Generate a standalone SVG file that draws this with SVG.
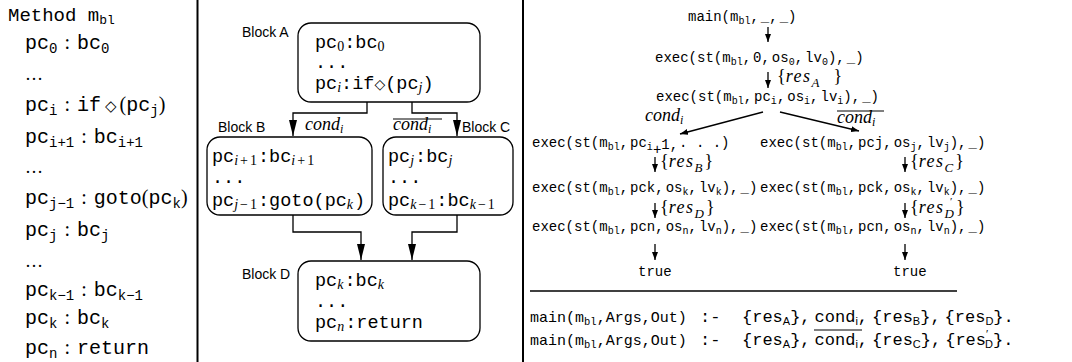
<svg xmlns="http://www.w3.org/2000/svg" width="1072" height="362" viewBox="0 0 1072 362">
<style>
.tt{font-family:"Liberation Mono","DejaVu Sans Mono",monospace;fill:#000}
.rm{font-family:"Liberation Serif","DejaVu Serif",serif;font-style:normal}
.it{font-family:"Liberation Serif","DejaVu Serif",serif;font-style:italic}
.sf{font-family:"Liberation Sans","DejaVu Sans",sans-serif}
.sym{font-family:"DejaVu Sans",sans-serif}
.box{fill:#fff;stroke:#000;stroke-width:1.3}
.conn{fill:none;stroke:#000;stroke-width:1.3}
.div{stroke:#000;stroke-width:2}
.lab{font-family:"Liberation Sans","DejaVu Sans",sans-serif;font-size:14px;fill:#000}
.res{letter-spacing:1.5px}
</style>
<defs>
<marker id="ah" viewBox="0 0 16 8" refX="16" refY="4" markerWidth="16" markerHeight="8" markerUnits="userSpaceOnUse" orient="auto"><path d="M0,0 L16,4 L0,8 z" fill="#000"/></marker>
<marker id="as" viewBox="0 0 8 6" refX="8" refY="3" markerWidth="8" markerHeight="6" markerUnits="userSpaceOnUse" orient="auto"><path d="M0,0 L8,3 L0,6 z" fill="#000"/></marker>
</defs>
<rect width="1072" height="362" fill="#fff"/>
<line class="div" x1="197.5" y1="0" x2="197.5" y2="362"/>
<line class="div" x1="523" y1="0" x2="523" y2="362"/>

<!-- Left column: bytecode listing -->
<g id="listing" class="tt" font-size="20">
<text x="8" y="21" font-size="19">Method m<tspan font-size="13" dy="3">bl</tspan></text>
<text x="25" y="49">pc<tspan font-size="14" dy="4">0</tspan><tspan class="rm" dy="-4" dx="7">:</tspan><tspan dx="7">bc</tspan><tspan font-size="14" dy="4">0</tspan></text>
<text x="25" y="80" class="rm" font-size="18">…</text>
<text x="25" y="111">pc<tspan font-size="14" dy="4">i</tspan><tspan class="rm" dy="-4" dx="7">:</tspan><tspan dx="7">if</tspan><tspan class="sym" font-size="15" dx="4">◇</tspan><tspan class="rm" dx="3">(</tspan>pc<tspan font-size="14" dy="4">j</tspan><tspan class="rm" dy="-4">)</tspan></text>
<text x="25" y="143">pc<tspan font-size="14" dy="4">i+1</tspan><tspan class="rm" dy="-4" dx="7">:</tspan><tspan dx="7">bc</tspan><tspan font-size="14" dy="4">i+1</tspan></text>
<text x="25" y="173" class="rm" font-size="18">…</text>
<text x="25" y="204">pc<tspan font-size="14" dy="4">j−1</tspan><tspan class="rm" dy="-4" dx="7">:</tspan><tspan dx="7">goto</tspan><tspan class="rm">(</tspan>pc<tspan font-size="14" dy="4">k</tspan><tspan class="rm" dy="-4">)</tspan></text>
<text x="25" y="236">pc<tspan font-size="14" dy="4">j</tspan><tspan class="rm" dy="-4" dx="7">:</tspan><tspan dx="7">bc</tspan><tspan font-size="14" dy="4">j</tspan></text>
<text x="25" y="267" class="rm" font-size="18">…</text>
<text x="25" y="296">pc<tspan font-size="14" dy="4">k−1</tspan><tspan class="rm" dy="-4" dx="7">:</tspan><tspan dx="7">bc</tspan><tspan font-size="14" dy="4">k−1</tspan></text>
<text x="25" y="324">pc<tspan font-size="14" dy="4">k</tspan><tspan class="rm" dy="-4" dx="7">:</tspan><tspan dx="7">bc</tspan><tspan font-size="14" dy="4">k</tspan></text>
<text x="25" y="354">pc<tspan font-size="14" dy="4">n</tspan><tspan class="rm" dy="-4" dx="7">:</tspan><tspan dx="7">return</tspan></text>
</g>

<!-- Middle: control flow graph -->
<g id="connectors">
<path class="conn" d="M367,102 V113 H293 V136" marker-end="url(#ah)"/>
<path class="conn" d="M412,102 V113 H457 V136" marker-end="url(#ah)"/>
<path class="conn" d="M293,215 V232 H361 V260" marker-end="url(#ah)"/>
<path class="conn" d="M457,215 V232 H412 V260" marker-end="url(#ah)"/>
<text class="it" x="305" y="130" font-size="18">cond<tspan font-size="12" dy="3">i</tspan></text>
<text class="it" x="393" y="130" font-size="18">cond<tspan font-size="12" dy="3">i</tspan></text>
<line x1="393" y1="119" x2="442" y2="119" stroke="#000" stroke-width="1"/>
</g>

<g id="blockA">
<rect class="box" x="298" y="23" width="182" height="79" rx="13"/>
<text class="lab" x="242" y="37">Block A</text>
<g class="tt" font-size="18.5">
<text x="315" y="48">pc<tspan class="rm" font-size="14" dy="3">0</tspan><tspan dy="-3">:bc</tspan><tspan class="rm" font-size="14" dy="3">0</tspan></text>
<text x="315" y="68">...</text>
<text x="315" y="89">pc<tspan class="it" font-size="14" dy="3">i</tspan><tspan dy="-3">:if</tspan><tspan class="sym" font-size="14">◇</tspan>(pc<tspan class="it" font-size="14" dy="3">j</tspan><tspan dy="-3">)</tspan></text>
</g>
</g>

<g id="blockB">
<rect class="box" x="207" y="137" width="165" height="78" rx="13"/>
<text class="lab" x="218" y="132">Block B</text>
<g class="tt" font-size="18.5">
<text x="212" y="162">pc<tspan class="it" font-size="14" dy="3">i</tspan><tspan class="rm" font-size="14" dx="2">+</tspan><tspan class="rm" font-size="14" dx="2">1</tspan><tspan dy="-3" dx="1">:bc</tspan><tspan class="it" font-size="14" dy="3">i</tspan><tspan class="rm" font-size="14" dx="2">+</tspan><tspan class="rm" font-size="14" dx="2">1</tspan></text>
<text x="212" y="183">...</text>
<text x="212" y="206">pc<tspan class="it" font-size="14" dy="3">j</tspan><tspan class="rm" font-size="14" dx="2">−</tspan><tspan class="rm" font-size="14" dx="2">1</tspan><tspan dy="-3" dx="1">:goto(pc</tspan><tspan class="it" font-size="14" dy="3">k</tspan><tspan dy="-3" dx="1">)</tspan></text>
</g>
</g>

<g id="blockC">
<rect class="box" x="383" y="137" width="130" height="78" rx="13"/>
<text class="lab" x="462" y="132">Block C</text>
<g class="tt" font-size="18.5">
<text x="388" y="162">pc<tspan class="it" font-size="14" dy="3">j</tspan><tspan dy="-3" dx="1">:bc</tspan><tspan class="it" font-size="14" dy="3">j</tspan></text>
<text x="388" y="183">...</text>
<text x="388" y="206">pc<tspan class="it" font-size="14" dy="3">k</tspan><tspan class="rm" font-size="14" dx="2">−</tspan><tspan class="rm" font-size="14" dx="2">1</tspan><tspan dy="-3" dx="1">:bc</tspan><tspan class="it" font-size="14" dy="3">k</tspan><tspan class="rm" font-size="14" dx="2">−</tspan><tspan class="rm" font-size="14" dx="2">1</tspan></text>
</g>
</g>

<g id="blockD">
<rect class="box" x="298" y="261" width="182" height="80" rx="13"/>
<text class="lab" x="242" y="279">Block D</text>
<g class="tt" font-size="18.5">
<text x="315" y="286">pc<tspan class="it" font-size="14" dy="3">k</tspan><tspan dy="-3" dx="1">:bc</tspan><tspan class="it" font-size="14" dy="3">k</tspan></text>
<text x="315" y="307">...</text>
<text x="315" y="328">pc<tspan class="it" font-size="14" dy="3">n</tspan><tspan dy="-3" dx="1">:return</tspan></text>
</g>
</g>

<!-- Right: execution tree -->
<g id="tree-arrows" class="conn">
<path d="M768,27 V42" marker-end="url(#as)"/>
<path d="M768,72 V88" marker-end="url(#as)"/>
<path d="M763,112 L680,134" marker-end="url(#as)"/>
<path d="M780,112 L859,131" marker-end="url(#as)"/>
<path d="M655,157 V172" marker-end="url(#as)"/>
<path d="M905,157 V172" marker-end="url(#as)"/>
<path d="M655,203 V218" marker-end="url(#as)"/>
<path d="M905,203 V218" marker-end="url(#as)"/>
<path d="M655,244 V260" marker-end="url(#as)"/>
<path d="M905,244 V260" marker-end="url(#as)"/>
</g>

<g id="tree-nodes" class="tt" font-size="14">
<text x="688" y="21">main(m<tspan font-size="10" dy="3">bl</tspan><tspan dy="-3">,</tspan><tspan dx="2">_,</tspan><tspan dx="2">_)</tspan></text>
<text x="655" y="62">exec(st(m<tspan font-size="10" dy="3">bl</tspan><tspan dy="-3">,</tspan><tspan dx="2">0,</tspan><tspan dx="2">os</tspan><tspan font-size="10" dy="3">0</tspan><tspan dy="-3">,</tspan><tspan dx="2">lv</tspan><tspan font-size="10" dy="3">0</tspan><tspan dy="-3">),</tspan><tspan dx="2">_)</tspan></text>
<text x="656" y="101">exec(st(m<tspan font-size="10" dy="3">bl</tspan><tspan dy="-3">,</tspan><tspan dx="2">pc</tspan><tspan font-size="10" dy="3">i</tspan><tspan dy="-3">,</tspan><tspan dx="2">os</tspan><tspan font-size="10" dy="3">i</tspan><tspan dy="-3">,</tspan><tspan dx="2">lv</tspan><tspan font-size="10" dy="3">i</tspan><tspan dy="-3">),</tspan><tspan dx="2">_)</tspan></text>
<text x="532" y="147">exec(st(m<tspan font-size="10" dy="3">bl</tspan><tspan dy="-3">,</tspan><tspan dx="2">pc</tspan><tspan font-size="10" dy="3">i</tspan><tspan dy="4">+</tspan><tspan dy="-5">1,</tspan><tspan dy="-2" dx="1">. . .)</tspan></text>
<text x="760" y="147">exec(st(m<tspan font-size="10" dy="3">bl</tspan><tspan dy="-3">,</tspan><tspan dx="2">pcj,</tspan><tspan dx="2">os</tspan><tspan font-size="10" dy="3">j</tspan><tspan dy="-3">,</tspan><tspan dx="2">lv</tspan><tspan font-size="10" dy="3">j</tspan><tspan dy="-3">),</tspan><tspan dx="2">_)</tspan></text>
<text x="532" y="192">exec(st(m<tspan font-size="10" dy="3">bl</tspan><tspan dy="-3">,</tspan><tspan dx="2">pck,</tspan><tspan dx="2">os</tspan><tspan font-size="10" dy="3">k</tspan><tspan dy="-3">,</tspan><tspan dx="2">lv</tspan><tspan font-size="10" dy="3">k</tspan><tspan dy="-3">),</tspan><tspan dx="2">_)</tspan></text>
<text x="760" y="192">exec(st(m<tspan font-size="10" dy="3">bl</tspan><tspan dy="-3">,</tspan><tspan dx="2">pck,</tspan><tspan dx="2">os</tspan><tspan font-size="10" dy="3">k</tspan><tspan dy="-3">,</tspan><tspan dx="2">lv</tspan><tspan font-size="10" dy="3">k</tspan><tspan dy="-3">),</tspan><tspan dx="2">_)</tspan></text>
<text x="532" y="231">exec(st(m<tspan font-size="10" dy="3">bl</tspan><tspan dy="-3">,</tspan><tspan dx="2">pcn,</tspan><tspan dx="2">os</tspan><tspan font-size="10" dy="3">n</tspan><tspan dy="-3">,</tspan><tspan dx="2">lv</tspan><tspan font-size="10" dy="3">n</tspan><tspan dy="-3">),</tspan><tspan dx="2">_)</tspan></text>
<text x="760" y="231">exec(st(m<tspan font-size="10" dy="3">bl</tspan><tspan dy="-3">,</tspan><tspan dx="2">pcn,</tspan><tspan dx="2">os</tspan><tspan font-size="10" dy="3">n</tspan><tspan dy="-3">,</tspan><tspan dx="2">lv</tspan><tspan font-size="10" dy="3">n</tspan><tspan dy="-3">),</tspan><tspan dx="2">_)</tspan></text>
<text x="638" y="276">true</text>
<text x="893" y="276">true</text>
</g>

<g id="tree-labels" class="it" font-size="18">
<text x="777" y="82"><tspan class="rm">{</tspan><tspan class="res">res</tspan><tspan font-size="13" dy="5">A</tspan><tspan class="rm" dy="-5" dx="14">}</tspan></text>
<text x="645" y="121">cond<tspan font-size="12" dy="3">i</tspan></text>
<text x="837" y="123">cond<tspan font-size="12" dy="3">i</tspan></text>
<line x1="837" y1="111" x2="884" y2="111" stroke="#000" stroke-width="1"/>
<text x="660" y="167"><tspan class="rm">{</tspan><tspan class="res">res</tspan><tspan font-size="13" dy="5">B</tspan><tspan class="rm" dy="-5" dx="2">}</tspan></text>
<text x="910" y="167"><tspan class="rm">{</tspan><tspan class="res">res</tspan><tspan font-size="13" dy="5">C</tspan><tspan class="rm" dy="-5" dx="2">}</tspan></text>
<text x="660" y="213"><tspan class="rm">{</tspan><tspan class="res">res</tspan><tspan font-size="13" dy="5">D</tspan><tspan class="rm" dy="-5" dx="2">}</tspan></text>
<text x="910" y="213"><tspan class="rm">{</tspan><tspan class="res">res</tspan><tspan font-size="13" dy="5">D</tspan><tspan class="rm" dy="-5" dx="2">}</tspan></text>
<text x="950" y="205" class="rm" font-size="11">′</text>
</g>

<line x1="530" y1="291" x2="957" y2="291" stroke="#000" stroke-width="1.5"/>

<g id="clauses" class="tt" font-size="15">
<text x="530" y="322">main(m<tspan font-size="10.5" dy="3">bl</tspan><tspan dy="-3">,Args,Out)</tspan></text>
<text x="700" y="322" font-size="17">:-</text>
<text x="742" y="322" font-size="17">{res<tspan class="sf" font-size="11" dy="3">A</tspan><tspan dy="-3">},</tspan><tspan dx="4">cond</tspan><tspan class="sf" font-size="11" dy="3">i</tspan><tspan dy="-3">,</tspan><tspan dx="4">{res</tspan><tspan class="sf" font-size="11" dy="3">B</tspan><tspan dy="-3">},</tspan><tspan dx="4">{res</tspan><tspan class="sf" font-size="11" dy="3">D</tspan><tspan dy="-3">}.</tspan></text>
<text x="530" y="345">main(m<tspan font-size="10.5" dy="3">bl</tspan><tspan dy="-3">,Args,Out)</tspan></text>
<text x="700" y="345" font-size="17">:-</text>
<text x="742" y="345" font-size="17">{res<tspan class="sf" font-size="11" dy="3">A</tspan><tspan dy="-3">},</tspan><tspan dx="4">cond</tspan><tspan class="sf" font-size="11" dy="3">i</tspan><tspan dy="-3">,</tspan><tspan dx="4">{res</tspan><tspan class="sf" font-size="11" dy="3">C</tspan><tspan dy="-3">},</tspan><tspan dx="4">{res</tspan><tspan class="sf" font-size="11" dy="-7">′</tspan><tspan class="sf" font-size="11" dx="-3" dy="10">D</tspan><tspan dy="-3">}.</tspan></text>
<line x1="814" y1="330" x2="862" y2="330" stroke="#000" stroke-width="1"/>
</g>
</svg>
